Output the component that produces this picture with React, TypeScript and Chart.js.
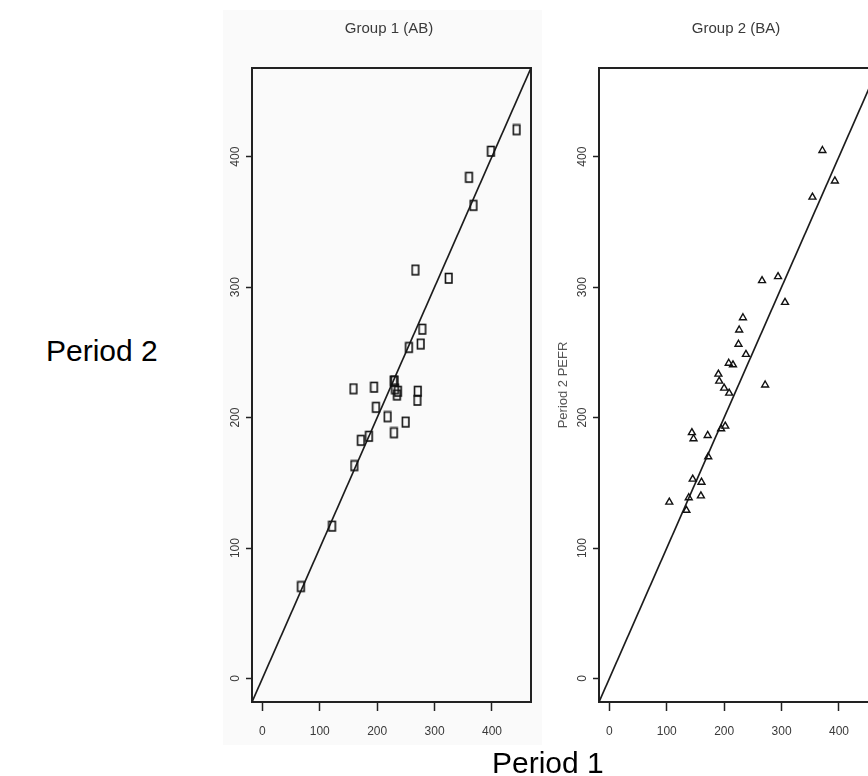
import React, { useEffect, useRef } from 'react';
import { Chart, registerables } from 'chart.js';

Chart.register(...registerables);

// Axis limits: data range 0..450 extended by 4% on each side (R default)
const AXIS_MIN = -18;
const AXIS_MAX = 468;
const TICK_VALUES = [0, 100, 200, 300, 400];

const GROUP1_TITLE = 'Group 1 (AB)';
const GROUP2_TITLE = 'Group 2 (BA)';
const RIGHT_Y_TITLE = 'Period 2 PEFR';
const X_CAPTION = 'Period 1';
const Y_CAPTION = 'Period 2';

// Group 1 (AB): mean morning PEFR
const g1Period1 = [121.905, 218.5, 235.0, 250.0, 186.19, 231.563, 443.25, 198.421, 270.5, 360.476, 229.75, 159.091, 255.882, 279.048, 160.556, 172.105, 267.0, 230.75, 271.19, 276.25, 398.75, 67.778, 195.0, 325.0, 368.077, 228.947, 236.667];
const g1Period2 = [116.667, 200.5, 217.143, 196.429, 185.5, 221.842, 420.5, 207.692, 213.158, 384.0, 188.25, 221.905, 253.571, 267.619, 163.0, 182.381, 313.0, 227.895, 220.0, 256.25, 404.0, 70.278, 223.158, 306.667, 362.5, 227.895, 220.0];

// Group 2 (BA)
const g2Period1 = [138.333, 225.0, 392.857, 190.0, 191.429, 226.19, 201.905, 134.286, 238.0, 159.5, 232.75, 172.308, 266.0, 171.333, 194.737, 200.0, 146.667, 208.0, 208.75, 271.429, 143.81, 104.444, 145.238, 215.385, 306.0, 160.526, 353.81, 293.889, 371.19];
const g2Period2 = [138.571, 256.25, 381.429, 233.333, 228.0, 267.143, 193.5, 128.947, 248.5, 140.0, 276.563, 170.0, 305.0, 186.333, 191.429, 222.619, 183.81, 241.667, 218.81, 225.0, 188.5, 135.238, 152.857, 240.476, 288.333, 150.476, 369.048, 308.095, 404.762];

const FRAME = '#222222';
const TEXT = '#3a3a3a';
const NARROW = '"Liberation Sans Narrow", "Arial Narrow", Arial, "Liberation Sans", sans-serif';
const SANS = 'Arial, "Liberation Sans", sans-serif';

function makeSquare(): HTMLCanvasElement {
  const c = document.createElement('canvas');
  c.width = 10;
  c.height = 13;
  const ctx = c.getContext('2d')!;
  ctx.strokeStyle = '#111';
  ctx.lineWidth = 1.6;
  ctx.strokeRect(1.5, 1.5, 6.5, 9.5);
  return c;
}

type PanelProps = {
  title: string;
  p1: number[];
  p2: number[];
  marker: 'square' | 'triangle';
  yTitle?: string;
  left: number;
};

function Panel({ title, p1, p2, marker, yTitle, left }: PanelProps) {
  const ref = useRef<HTMLCanvasElement>(null);
  useEffect(() => {
    const canvas = ref.current;
    if (!canvas) return;
    const points = p1.map((x, i) => ({ x, y: p2[i] }));
    const pointStyle: any = marker === 'square' ? makeSquare() : 'triangle';
    const chart = new Chart(canvas, {
      type: 'scatter',
      data: {
        datasets: [
          {
            type: 'line',
            data: [
              { x: AXIS_MIN, y: AXIS_MIN },
              { x: AXIS_MAX, y: AXIS_MAX },
            ],
            borderColor: '#1c1c1c',
            borderWidth: 1.7,
            pointRadius: 0,
            fill: false,
            order: 2,
          } as any,
          {
            data: points,
            pointStyle,
            pointRadius: marker === 'square' ? 5 : 4,
            borderColor: '#111',
            borderWidth: 1.4,
            backgroundColor: 'rgba(0,0,0,0)',
            order: 1,
          } as any,
        ],
      },
      options: {
        responsive: false,
        animation: false,
        layout: { padding: 0 },
        plugins: {
          legend: { display: false },
          tooltip: { enabled: false },
          title: {
            display: true,
            text: title,
            color: TEXT,
            font: { family: SANS, size: 15, weight: 'normal' },
            padding: { top: 20, bottom: 10 },
          },
        },
        scales: {
          x: {
            type: 'linear',
            position: 'bottom',
            min: AXIS_MIN,
            max: AXIS_MAX,
            afterBuildTicks: (s: any) => {
              s.ticks = TICK_VALUES.map((v) => ({ value: v }));
            },
            afterFit: (s: any) => {
              s.height = 74;
            },
            grid: {
              display: true,
              drawOnChartArea: false,
              drawTicks: true,
              tickLength: 9,
              tickWidth: 1.5,
              tickColor: FRAME,
              color: FRAME,
            },
            border: { display: true, color: FRAME, width: 2 },
            ticks: {
              color: TEXT,
              font: { family: NARROW, size: 12 },
              padding: 13,
              maxRotation: 0,
              minRotation: 0,
              autoSkip: false,
            },
          },
          y: {
            type: 'linear',
            position: 'left',
            min: AXIS_MIN,
            max: AXIS_MAX,
            afterBuildTicks: (s: any) => {
              s.ticks = TICK_VALUES.map((v) => ({ value: v }));
            },
            afterFit: (s: any) => {
              s.width = 52;
            },
            grid: {
              display: true,
              drawOnChartArea: false,
              drawTicks: true,
              tickLength: 6,
              tickWidth: 1.5,
              tickColor: FRAME,
              color: FRAME,
            },
            border: { display: true, color: FRAME, width: 2 },
            ticks: {
              color: TEXT,
              font: { family: SANS, size: 12 },
              padding: 0,
              minRotation: 90,
              maxRotation: 90,
              crossAlign: 'center',
              autoSkip: false,
            },
            title: yTitle
              ? {
                  display: true,
                  text: yTitle,
                  color: '#555',
                  font: { family: SANS, size: 13 },
                  padding: { top: 9, bottom: 0 },
                }
              : { display: false },
          },
          x2: {
            type: 'linear',
            position: 'top',
            min: AXIS_MIN,
            max: AXIS_MAX,
            afterFit: (s: any) => {
              s.height = 20;
            },
            grid: { display: false },
            ticks: { display: false },
            border: { display: true, color: FRAME, width: 2 },
          },
          y2: {
            type: 'linear',
            position: 'right',
            min: AXIS_MIN,
            max: AXIS_MAX,
            afterFit: (s: any) => {
              s.width = 47;
            },
            grid: { display: false },
            ticks: { display: false },
            border: { display: true, color: FRAME, width: 2 },
          },
        } as any,
      },
    });
    return () => chart.destroy();
  }, [title, p1, p2, marker, yTitle]);

  return (
    <canvas
      ref={ref}
      width={378}
      height={776}
      style={{ position: 'absolute', left, top: 0, width: 378, height: 776 }}
    />
  );
}

export default function App() {
  return (
    <div
      style={{
        position: 'absolute',
        left: 0,
        top: 0,
        width: 868,
        height: 776,
        overflow: 'hidden',
        background: '#ffffff',
      }}
    >
      <div
        style={{
          position: 'absolute',
          left: 223,
          top: 10,
          width: 319,
          height: 735,
          background: '#fafafa',
        }}
      />
      <Panel title={GROUP1_TITLE} p1={g1Period1} p2={g1Period2} marker="square" left={200} />
      <Panel
        title={GROUP2_TITLE}
        p1={g2Period1}
        p2={g2Period2}
        marker="triangle"
        yTitle={RIGHT_Y_TITLE}
        left={547}
      />
      <div
        style={{
          position: 'absolute',
          left: 46,
          top: 336,
          fontFamily: SANS,
          fontSize: 30,
          lineHeight: '30px',
          color: '#000',
          whiteSpace: 'nowrap',
        }}
      >
        {Y_CAPTION}
      </div>
      <div
        style={{
          position: 'absolute',
          left: 492,
          top: 748,
          fontFamily: SANS,
          fontSize: 30,
          lineHeight: '30px',
          color: '#000',
          whiteSpace: 'nowrap',
        }}
      >
        {X_CAPTION}
      </div>
    </div>
  );
}
